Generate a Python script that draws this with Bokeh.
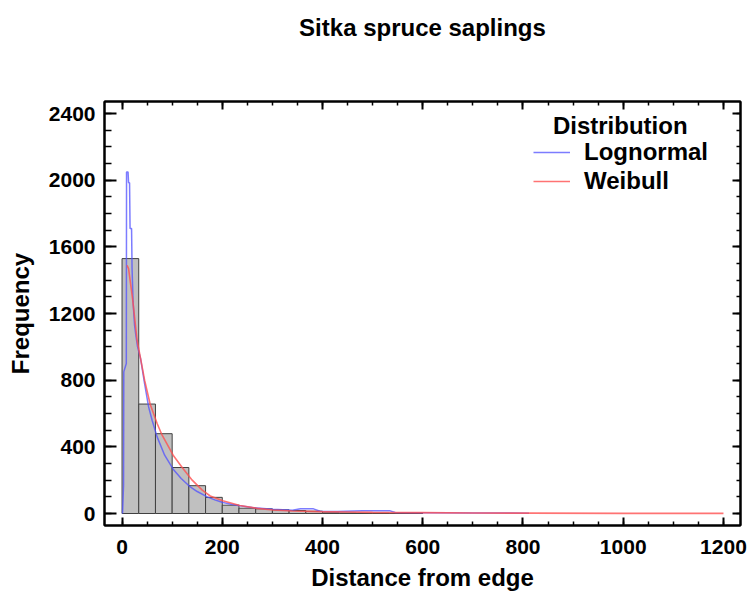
import numpy as np
from bokeh.plotting import figure
from bokeh.models import (Range1d, LinearAxis, SingleIntervalTicker, Legend, LegendItem,
                          Label, CustomJSTickFormatter)
from bokeh.embed import file_html
from bokeh.resources import INLINE

# ---------------- data ----------------
title_text = "Sitka spruce saplings"
x_label = "Distance from edge"
y_label = "Frequency"
legend_title = "Distribution"
series_names = ["Lognormal", "Weibull"]

bin_width = 100 / 3
bin_counts = [1530, 657, 479, 276, 167, 97, 50, 32, 28, 22, 18, 14, 4, 3, 2, 2, 1, 1]

lognormal_x = [1, 3, 3.5, 8.5, 9, 12, 13, 15, 16, 19, 20, 22, 25, 28, 31, 37, 45, 53, 60, 70,
               85, 102, 118, 134, 150, 170, 185, 201, 218, 235, 260, 301, 340, 356, 382, 395,
               430, 480, 535, 545, 600, 700, 812]
lognormal_y = [0, 170, 850, 900, 2050, 2050, 1985, 1985, 1710, 1710, 1470, 1270, 1130, 1060, 1000,
               930, 780, 640, 560, 460, 350, 266, 210, 165, 132, 100, 82, 66, 55, 46, 36, 26,
               19, 28, 28, 14, 12, 16, 16, 6, 5, 3, 2]

weibull_x = [10, 13, 21, 30, 37, 45, 56, 70, 80, 102, 120, 140, 160, 176, 201, 235, 270, 301,
             340, 396, 450, 500, 600, 700, 812, 1000, 1200]
weibull_y = [1490, 1470, 1290, 1040, 930, 800, 657, 540, 470, 350, 276, 200, 140, 105, 76, 48,
             31, 21, 15, 11, 9, 7, 5, 3, 2, 1, 0.5]

# ---------------- figure ----------------
FONT = "Liberation Sans"

p = figure(width=750, height=593, output_backend="svg", toolbar_location=None,
           x_range=Range1d(-35, 1234), y_range=Range1d(-72, 2473),
           min_border_left=104, min_border_right=10, min_border_top=101, min_border_bottom=66)
p.grid.visible = False
p.outline_line_color = "black"
p.outline_line_width = 2
p.background_fill_color = "white"
p.border_fill_color = "white"

edges = np.arange(len(bin_counts) + 1) * bin_width
p.quad(left=edges[:-1], right=edges[1:], bottom=0, top=bin_counts,
       fill_color="#c0c0c0", line_color="#404040", line_width=1)

r_logn = p.line(lognormal_x, lognormal_y, line_color="#5050ff", line_width=1.5, line_alpha=0.75)
r_weib = p.line(weibull_x, weibull_y, line_color="#ff5050", line_width=1.6, line_alpha=0.8)

xticker = SingleIntervalTicker(interval=200, num_minor_ticks=4)
yticker = SingleIntervalTicker(interval=400, num_minor_ticks=4)


def style_axis(ax, major_in, minor_in):
    ax.axis_line_width = 2
    ax.axis_line_color = "black"
    ax.major_tick_in = major_in
    ax.major_tick_out = 0
    ax.minor_tick_in = minor_in
    ax.minor_tick_out = 0
    ax.major_tick_line_width = 2
    ax.minor_tick_line_width = 1.5
    ax.major_tick_line_color = "black"
    ax.minor_tick_line_color = "black"
    ax.major_label_text_font = FONT
    ax.major_label_text_font_size = "21px"
    ax.major_label_text_font_style = "bold"
    ax.major_label_text_color = "black"
    ax.axis_label_text_font = FONT
    ax.axis_label_text_font_size = "24px"
    ax.axis_label_text_font_style = "bold"
    ax.axis_label_text_color = "black"


xa = p.xaxis[0]
xa.ticker = xticker
xa.axis_label = x_label
style_axis(xa, 8, 4)
xa.major_label_standoff = 14
xa.axis_label_standoff = 7

ya = p.yaxis[0]
ya.ticker = yticker
ya.axis_label = y_label
style_axis(ya, 12, 7)
ya.major_label_standoff = 9
ya.axis_label_standoff = 12
ya.major_label_orientation = "horizontal"

blank = CustomJSTickFormatter(code="return ''")
# top frame edge: inward ticks only; the chart title sits above it, centred over the frame
top = LinearAxis(ticker=xticker, formatter=blank, axis_label=title_text)
style_axis(top, 8, 4)
top.major_label_standoff = 0
top.major_label_text_font_size = "0px"
top.axis_label_standoff = 61
right = LinearAxis(ticker=yticker, formatter=blank)
style_axis(right, 8, 4)
right.major_label_standoff = 0
right.major_label_text_font_size = "0px"
p.add_layout(top, "above")
p.add_layout(right, "right")

legend = Legend(items=[LegendItem(label=series_names[0], renderers=[r_logn]),
                       LegendItem(label=series_names[1], renderers=[r_weib])],
                location=(424, 325), margin=0, padding=5, spacing=1,
                glyph_width=37, label_standoff=14,
                label_text_font=FONT, label_text_font_size="24px", label_text_font_style="bold",
                label_text_color="black",
                background_fill_alpha=0, border_line_alpha=0)
p.add_layout(legend)

p.add_layout(Label(x=994, y=2330, text=legend_title, text_align="center", text_baseline="middle",
                   text_font=FONT, text_font_size="24px", text_font_style="bold", text_color="black"))

open("out.html", "w").write(file_html(p, INLINE))
